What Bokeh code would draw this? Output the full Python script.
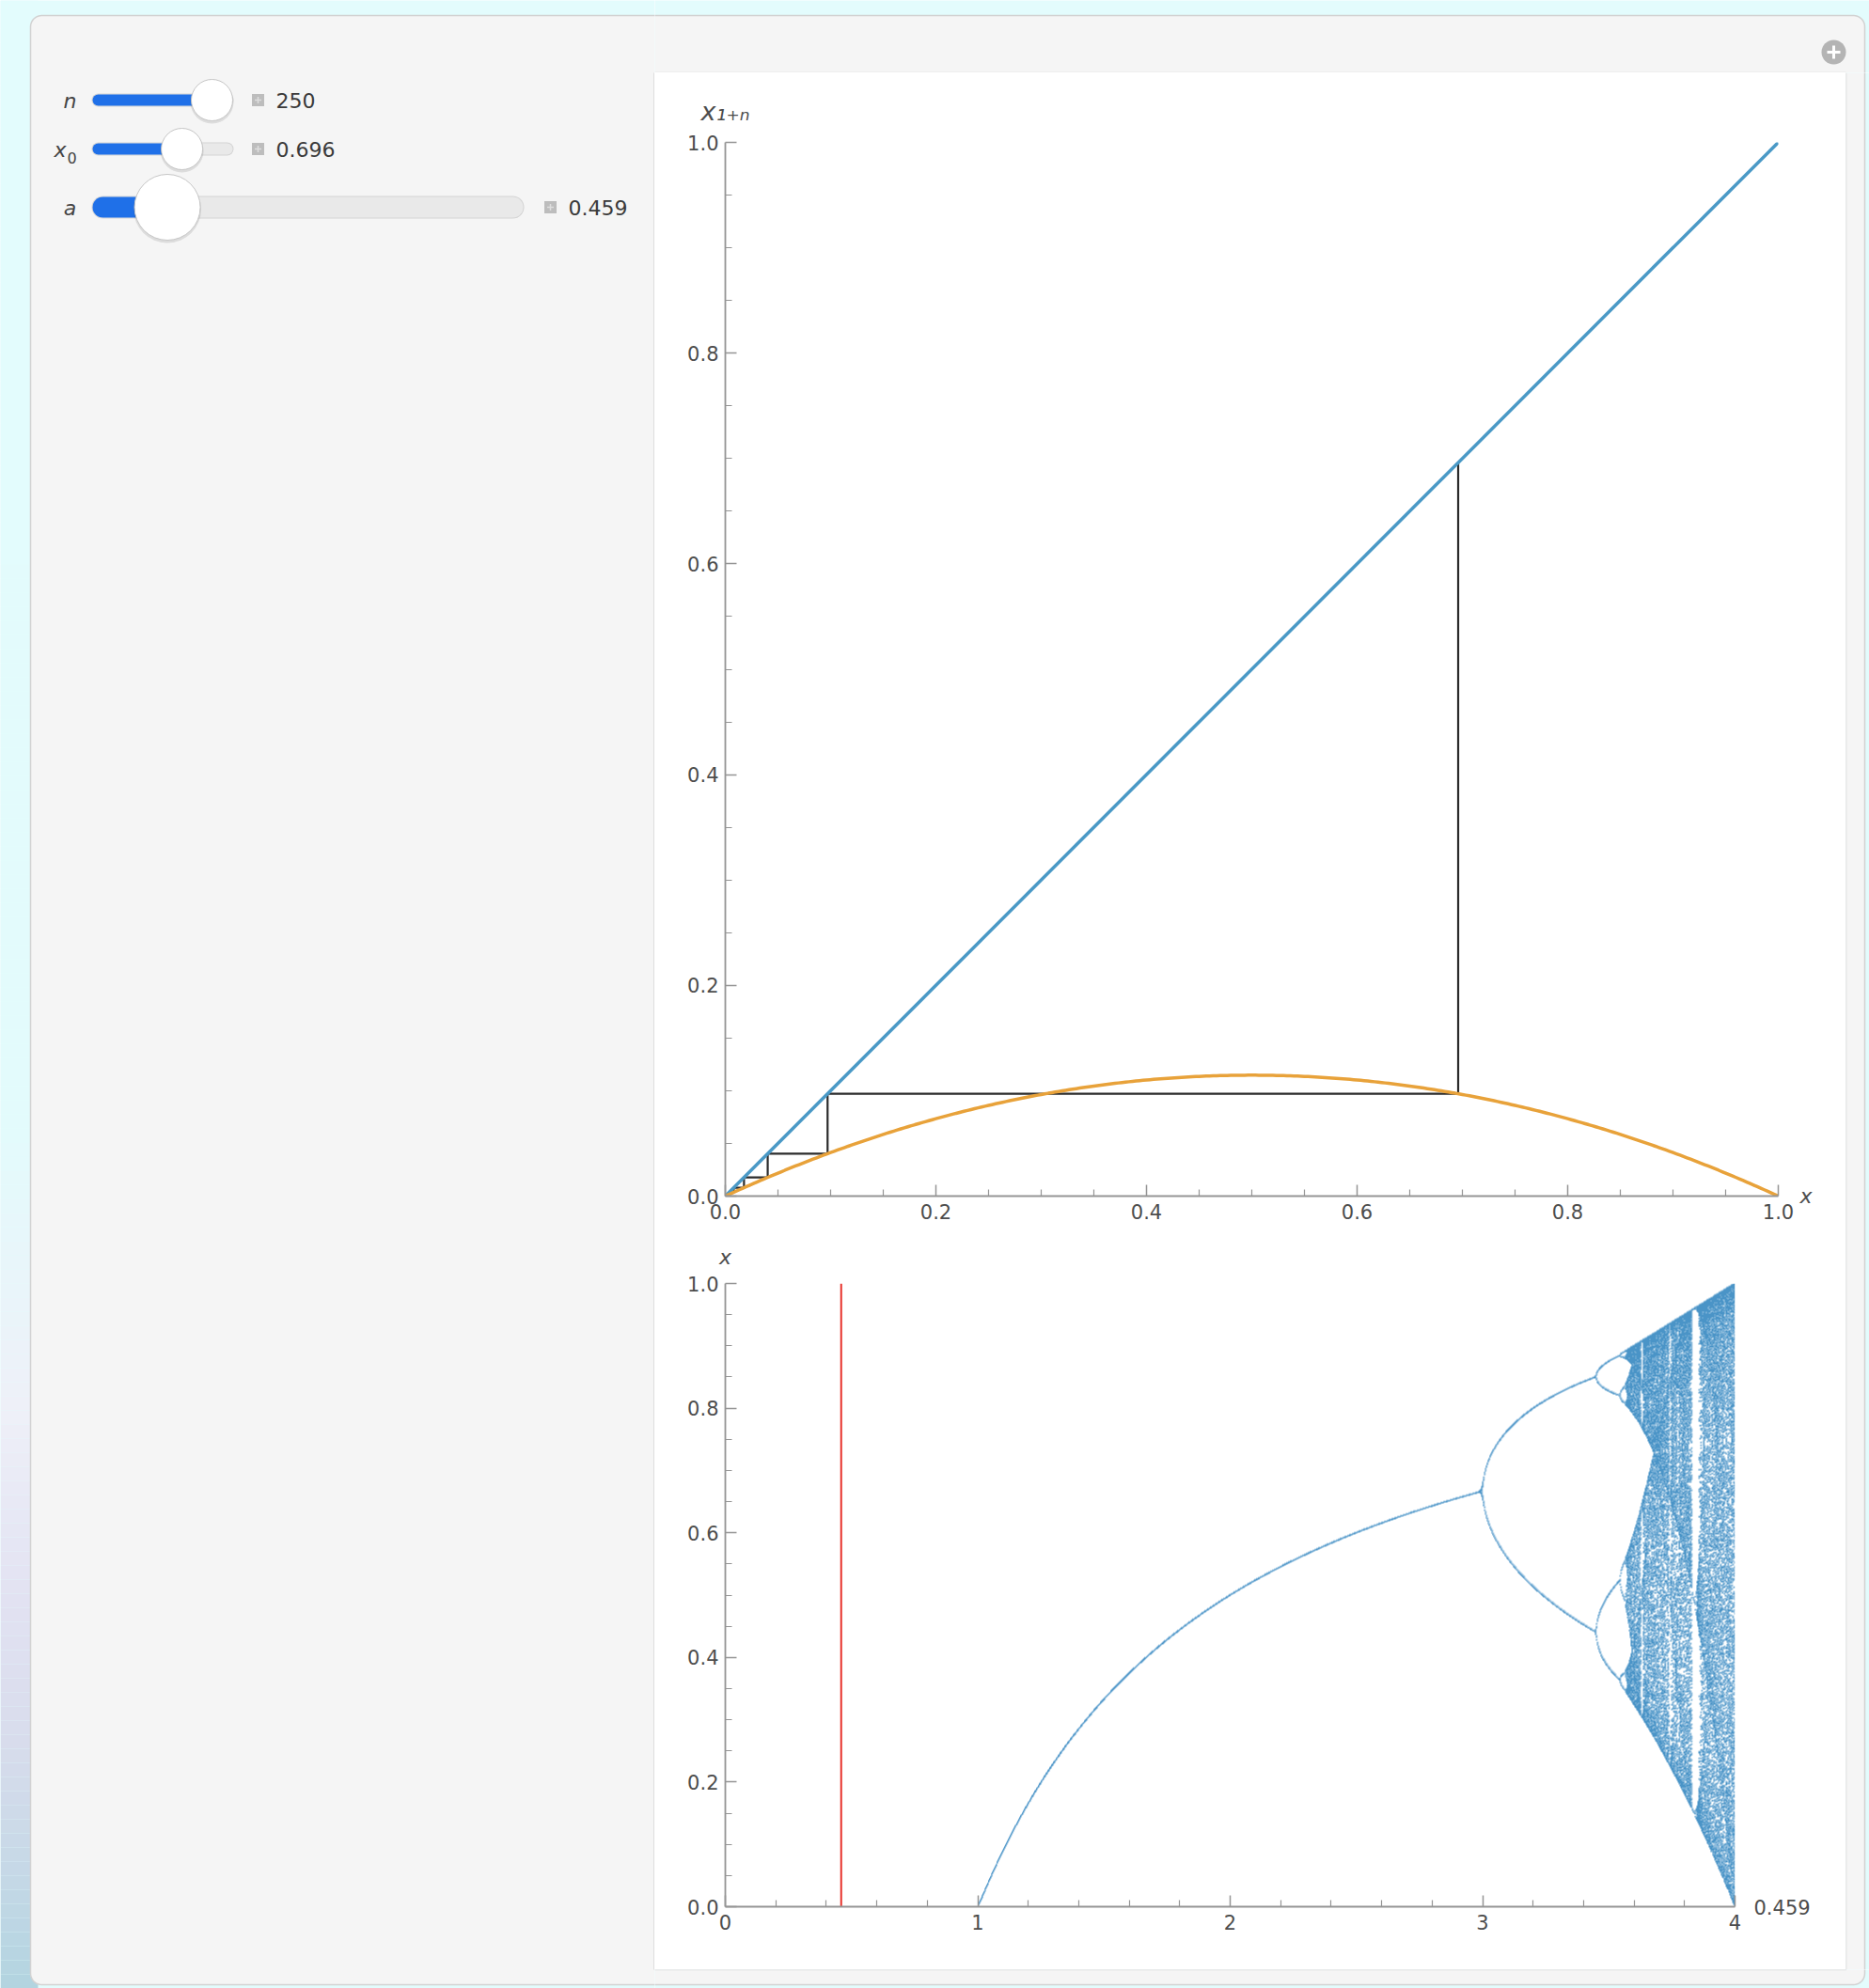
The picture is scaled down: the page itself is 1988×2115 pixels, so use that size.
import numpy as np
from bokeh.plotting import figure
from bokeh.layouts import row, column
from bokeh.models import Range1d, FixedTicker, LinearAxis
from bokeh.core.properties import value
from bokeh.embed import file_html
from bokeh.resources import INLINE

# ---------------- values ----------------
n_steps = 250          # slider n
x_start = 0.696        # slider x0
a_value = 0.459        # slider a

slider_labels = ["n", "x", "a"]
slider_subs = ["", "0", ""]
slider_texts = ["250", "0.696", "0.459"]
slider_vals = [250, 0.696, 0.459]
slider_mins = [1, 0.0, 0.0]
slider_maxs = [250, 1.0, 4.0]

unit_ticks = [0.0, 0.2, 0.4, 0.6, 0.8, 1.0]
unit_tick_labels = ["0.0", "0.2", "0.4", "0.6", "0.8", "1.0"]
unit_minor = [0.05, 0.1, 0.15, 0.25, 0.3, 0.35, 0.45, 0.5, 0.55,
              0.65, 0.7, 0.75, 0.85, 0.9, 0.95]
a_ticks = [0, 1, 2, 3, 4]
a_tick_labels = ["0", "1", "2", "3", "4"]
a_minor = [0.2, 0.4, 0.6, 0.8, 1.2, 1.4, 1.6, 1.8, 2.2, 2.4, 2.6, 2.8,
           3.2, 3.4, 3.6, 3.8]

top_y_label = "x\u2081\u208a\u2099"   # x_{1+n}
top_x_label = "x"
bottom_y_label = "x"
bottom_x_label = slider_texts[2]

bif_a_min, bif_a_max = 1.0, 4.0
bif_samples = 1610
bif_keep = 200

# ---------------- computed series ----------------
cx, cy = [x_start], [x_start]
xc = x_start
for _ in range(n_steps):
    yc = a_value * xc * (1 - xc)
    cx += [xc, yc]
    cy += [yc, yc]
    xc = yc

curve_x = np.linspace(0, 1, 301)
curve_y = a_value * curve_x * (1 - curve_x)

A = np.linspace(bif_a_min, bif_a_max, bif_samples)
X = np.full_like(A, x_start)
for _ in range(n_steps):
    X = A * X * (1 - X)
pts_a, pts_x = [], []
for _ in range(bif_keep):
    X = A * X * (1 - X)
    pts_a.append(A.copy())
    pts_x.append(X.copy())
pts_a = np.concatenate(pts_a)
pts_x = np.concatenate(pts_x)

W, H = 805, 663
cnt = np.zeros((H, W))
ci = np.clip(((pts_a - bif_a_min) / (bif_a_max - bif_a_min) * W).astype(int), 0, W - 1)
ri = np.clip((pts_x * H).astype(int), 0, H - 1)
np.add.at(cnt, (ri, ci), 1)
core = cnt > 0
dil = core.copy()
dil[1:, :] |= core[:-1, :]
dil[:, 1:] |= core[:, :-1]
dil[1:, 1:] |= core[:-1, :-1]
img = np.zeros((H, W, 4), dtype=np.uint8)
img[..., 0] = 50
img[..., 1] = 134
img[..., 2] = 192
alpha = np.zeros((H, W))
alpha[dil] = 115
alpha[core] = 225
img[..., 3] = alpha.astype(np.uint8)
img2d = np.ascontiguousarray(img).view(dtype=np.uint32).reshape((H, W))

# ---------------- styling constants ----------------
CYAN = "#e3fcfd"
PANEL = "#f5f5f5"
PANEL_EDGE = "#d2d2d2"
WHITE_EDGE = "#d9d9d9"
AXIS = "#959595"
TICKTXT = "#4d4d4d"
FONT = "DejaVu Sans"
PAGE_W, PAGE_H = 1988, 2115


def rrect(x1, y1, x2, y2, r, n=10):
    xs, ys = [], []
    for ccx, ccy, t0 in [(x2 - r, y1 + r, -90), (x2 - r, y2 - r, 0),
                         (x1 + r, y2 - r, 90), (x1 + r, y1 + r, 180)]:
        for t in np.radians(np.linspace(t0, t0 + 90, n)):
            xs.append(ccx + r * np.cos(t))
            ys.append(ccy + r * np.sin(t))
    return xs, ys


grad_stops = [(0, (0xe3, 0xfc, 0xfd)), (1200, (0xe3, 0xfb, 0xfc)),
              (1500, (0xee, 0xf0, 0xf8)), (1700, (0xe2, 0xe2, 0xf2)),
              (1850, (0xd8, 0xdc, 0xec)), (2000, (0xc4, 0xd8, 0xe6)),
              (2115, (0xb2, 0xd4, 0xe0))]


def grad_color(y):
    for (y0, c0), (y1, c1) in zip(grad_stops[:-1], grad_stops[1:]):
        if y0 <= y <= y1:
            t = (y - y0) / (y1 - y0)
            c = [int(round(c0[i] + t * (c1[i] - c0[i]))) for i in range(3)]
            return "#%02x%02x%02x" % tuple(c)
    return "#%02x%02x%02x" % grad_stops[-1][1]


def deco_fig(w, h, X0, Y0, gradient=False):
    p = figure(width=w, height=h, x_range=Range1d(X0, X0 + w),
               y_range=Range1d(Y0 + h, Y0), output_backend="svg",
               toolbar_location=None, min_border=0,
               x_axis_type=None, y_axis_type=None)
    p.outline_line_color = None
    p.background_fill_color = CYAN
    p.border_fill_color = CYAN
    if gradient:
        ys = np.arange(0, PAGE_H, 15)
        p.quad(left=[0] * len(ys), right=[40] * len(ys), top=list(ys),
               bottom=list(ys + 15), fill_color=[grad_color(y + 7) for y in ys],
               line_color=None)
    px, py = rrect(32, 16, 1983, 2111, 12)
    p.patch(px, py, fill_color=PANEL, line_color=PANEL_EDGE, line_width=1.5)
    p.quad(left=696, right=1963, top=77, bottom=2095, fill_color="white",
           line_color=WHITE_EDGE, line_width=1.5)
    return p


# ---------------- left panel with sliders ----------------
left = deco_fig(696, PAGE_H, 0, 0, gradient=True)
row_y = [106, 158, 220]
track_x1 = 98
track_x2 = [247, 247, 556]
track_h = [12, 12, 22]
knob_r = [22, 22, 35]
box_x = [274, 274, 585]
val_x = [293, 293, 604]
BLUE = "#1f70e8"
for i in range(3):
    y = row_y[i]
    x2 = track_x2[i]
    r = knob_r[i]
    frac = (slider_vals[i] - slider_mins[i]) / (slider_maxs[i] - slider_mins[i])
    kx = track_x1 + r + frac * (x2 - track_x1 - 2 * r)
    th = track_h[i]
    left.line([track_x1 + th / 2, x2 - th / 2], [y, y], line_width=th + 2,
              line_color="#d4d4d4", line_cap="round")
    left.line([track_x1 + th / 2, x2 - th / 2], [y, y], line_width=th,
              line_color="#e9e9e9", line_cap="round")
    left.line([track_x1 + th / 2, kx], [y, y], line_width=th,
              line_color=BLUE, line_cap="round")
    left.circle([kx], [y + 2], radius=r + 1, fill_color="#000000",
                fill_alpha=0.10, line_color=None)
    left.circle([kx], [y], radius=r, fill_color="white",
                line_color="#c6c6c6", line_width=1)
    bx = box_x[i]
    left.quad(left=bx - 6.5, right=bx + 6.5, top=y - 6.5, bottom=y + 6.5,
              fill_color="#bdbdbd", line_color=None)
    left.segment(x0=[bx - 3.5, bx], y0=[y, y - 3.5], x1=[bx + 3.5, bx],
                 y1=[y, y + 3.5], line_color="#dedede", line_width=1.5)
    left.text(x=[val_x[i]], y=[y], text=[slider_texts[i]],
              text_font=value(FONT), text_font_size="22px",
              text_color="#3a3a3a", text_baseline="middle", text_align="left")
    if slider_subs[i]:
        left.text(x=[70], y=[y + 1], text=[slider_labels[i]],
                  text_font=value(FONT), text_font_size="22px",
                  text_font_style="italic", text_color="#444444",
                  text_baseline="middle", text_align="right")
        left.text(x=[71], y=[y + 9], text=[slider_subs[i]],
                  text_font=value(FONT), text_font_size="16px",
                  text_color="#444444", text_baseline="middle",
                  text_align="left")
    else:
        left.text(x=[74], y=[y + 1], text=[slider_labels[i]],
                  text_font=value(FONT), text_font_size="22px",
                  text_font_style="italic", text_color="#444444",
                  text_baseline="middle", text_align="center")
left.line([695.5, 695.5], [77, 2095], line_color=WHITE_EDGE, line_width=1.5)

# ---------------- strips ----------------
top_strip = deco_fig(1292, 77, 696, 0)
top_strip.circle([1950], [55], radius=13, fill_color="#b4b4b4", line_color=None)
top_strip.segment(x0=[1943, 1950], y0=[55, 48], x1=[1957, 1950], y1=[55, 62],
                  line_color="white", line_width=3)
right_strip = deco_fig(25, 2018, 1963, 77)
bottom_strip = deco_fig(1292, 20, 696, 2095)


def style_axes(p, xt, xl, xm, yt, yl, ym):
    for ax, t, l, m in [(p.xaxis[0], xt, xl, xm), (p.yaxis[0], yt, yl, ym)]:
        ax.ticker = FixedTicker(ticks=t, minor_ticks=m)
        ax.major_label_overrides = {v: s for v, s in zip(t, l)}
        ax.axis_line_color = AXIS
        ax.axis_line_width = 1.8
        ax.major_tick_line_color = AXIS
        ax.minor_tick_line_color = AXIS
        ax.major_tick_line_width = 1.5
        ax.minor_tick_line_width = 1.2
        ax.major_tick_in = 12
        ax.major_tick_out = 0
        ax.minor_tick_in = 7
        ax.minor_tick_out = 0
        ax.major_label_text_font = FONT
        ax.major_label_text_font_size = "21px"
        ax.major_label_text_color = TICKTXT
    p.xaxis[0].major_label_standoff = 8
    p.yaxis[0].major_label_standoff = 7


def label_axis(p, side, text, standoff, size, italic):
    ax = LinearAxis(ticker=FixedTicker(ticks=[0]),
                    major_label_overrides={0: text},
                    axis_line_color=None, major_tick_line_color=None,
                    minor_tick_line_color=None,
                    major_label_standoff=standoff,
                    major_label_text_font=FONT,
                    major_label_text_font_size=size,
                    major_label_text_font_style="italic" if italic else "normal",
                    major_label_text_color=TICKTXT)
    p.add_layout(ax, side)


def plot_fig(w, h, xr, yr, ml, mr, mt, mb):
    p = figure(width=w, height=h, x_range=Range1d(*xr), y_range=Range1d(*yr),
               output_backend="svg", toolbar_location=None,
               min_border_left=ml, min_border_right=mr,
               min_border_top=mt, min_border_bottom=mb)
    if "frame_align" in p.properties():
        p.frame_align = False
    p.grid.visible = False
    p.outline_line_color = None
    p.background_fill_color = "white"
    p.border_fill_color = "white"
    return p


# ---------------- top: cobweb ----------------
p1 = plot_fig(1267, 1239, (0, 1), (0, 1), 75, 72, 74, 44)
style_axes(p1, unit_ticks, unit_tick_labels, unit_minor,
           unit_ticks, unit_tick_labels, unit_minor)
p1.line(cx, cy, line_color="#2b2b2b", line_width=2.2)
p1.line([0, 1], [0, 1], line_color="#4a99c6", line_width=3.5)
p1.line(curve_x, curve_y, line_color="#e8a23a", line_width=3.5)
label_axis(p1, "above", top_y_label, 12, "27px", True)
label_axis(p1, "right", top_x_label, 17, "22px", True)

# ---------------- bottom: bifurcation ----------------
p2 = plot_fig(1267, 779, (0, 4), (0, 1), 75, 118, 49, 67)
style_axes(p2, a_ticks, a_tick_labels, a_minor,
           unit_ticks, unit_tick_labels, unit_minor)
p2.image_rgba(image=[img2d], x=bif_a_min, y=0, dw=bif_a_max - bif_a_min, dh=1)
p2.line([a_value, a_value], [0, 1], line_color="#e8322b", line_width=2)
label_axis(p2, "above", bottom_y_label, 10, "22px", True)
label_axis(p2, "right", bottom_x_label, 14, "21px", False)

right_col = column(top_strip,
                   row(column(p1, p2, spacing=0), right_strip, spacing=0),
                   bottom_strip, spacing=0)
layout = row(left, right_col, spacing=0)

open("out.html", "w").write(file_html(layout, INLINE))
